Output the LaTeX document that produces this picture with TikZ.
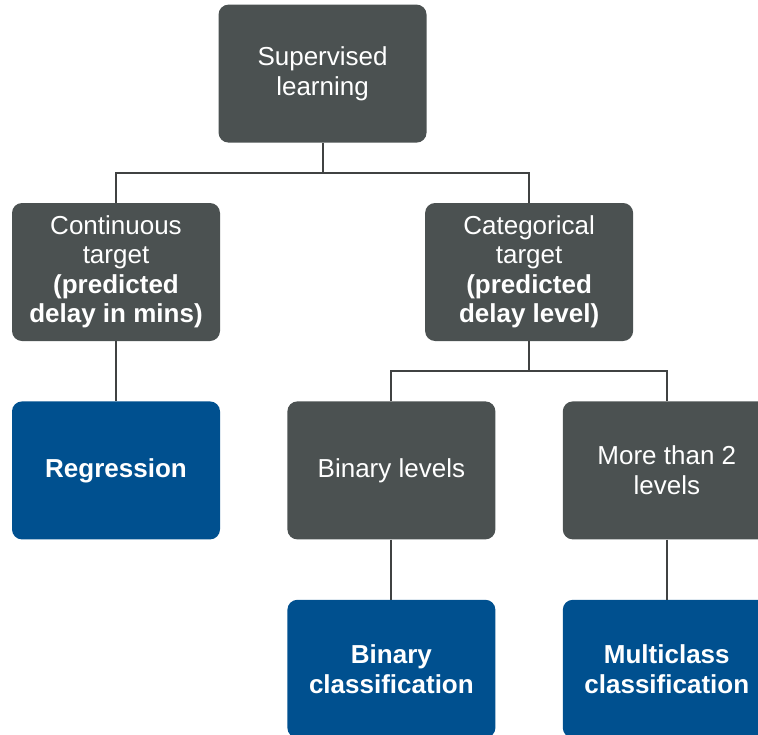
\documentclass[tikz,border=0pt]{standalone}
\usepackage{fontspec}
\setmainfont{Liberation Sans}
\usetikzlibrary{positioning,calc}

\definecolor{boxgray}{RGB}{75,81,81}
\definecolor{boxblue}{RGB}{0,80,143}
\definecolor{linegray}{RGB}{64,66,66}

\tikzset{
  gbox/.style={fill=boxgray, text=white, rounded corners=10pt, minimum width=208pt,
    minimum height=138pt, inner sep=0pt, align=center,
    font=\fontsize{26}{29.5}\selectfont},
  bbox/.style={gbox, fill=boxblue, font=\fontsize{26}{30}\selectfont\bfseries},
  conn/.style={draw=linegray, line width=2pt}
}

\begin{document}
\begin{tikzpicture}[x=1pt,y=1pt]
    \useasboundingbox (0,0) rectangle (758,-734);
    \clip (0,0) rectangle (758,-734);
    % second row and below
    \node[gbox] (cont) at (116,-272) {Continuous\\target\\\textbf{(predicted}\\\textbf{delay in mins)}};
    \node[bbox, below=60pt of cont] (reg) {Regression};
    \node[gbox, right=67pt of reg] (binlev) {Binary levels};
    \node[gbox, right=67pt of binlev] (more) {More than 2\\levels};
    \node[bbox, below=60pt of binlev] (bincl) {Binary\\classification};
    \node[bbox, below=60pt of more] (multi) {Multiclass\\classification};
    \node[gbox, above=60pt] (cat) at ($(binlev.north)!0.5!(more.north)$) {Categorical\\target\\\textbf{(predicted}\\\textbf{delay level)}};
    % root
    \node[gbox, above=60pt] (sup) at ($(cont.north)!0.5!(cat.north)$) {Supervised\\learning};

    % connectors
    \coordinate[below=30pt of sup.south] (j1);
    \coordinate[below=30pt of cat.south] (j2);
    \draw[conn] (sup.south) -- (j1);
    \draw[conn] (cont.north) |- (j1) -| (cat.north);
    \draw[conn] (cat.south) -- (j2);
    \draw[conn] (binlev.north) |- (j2) -| (more.north);
    \draw[conn] (cont) -- (reg);
    \draw[conn] (binlev) -- (bincl);
    \draw[conn] (more) -- (multi);
\end{tikzpicture}
\end{document}
